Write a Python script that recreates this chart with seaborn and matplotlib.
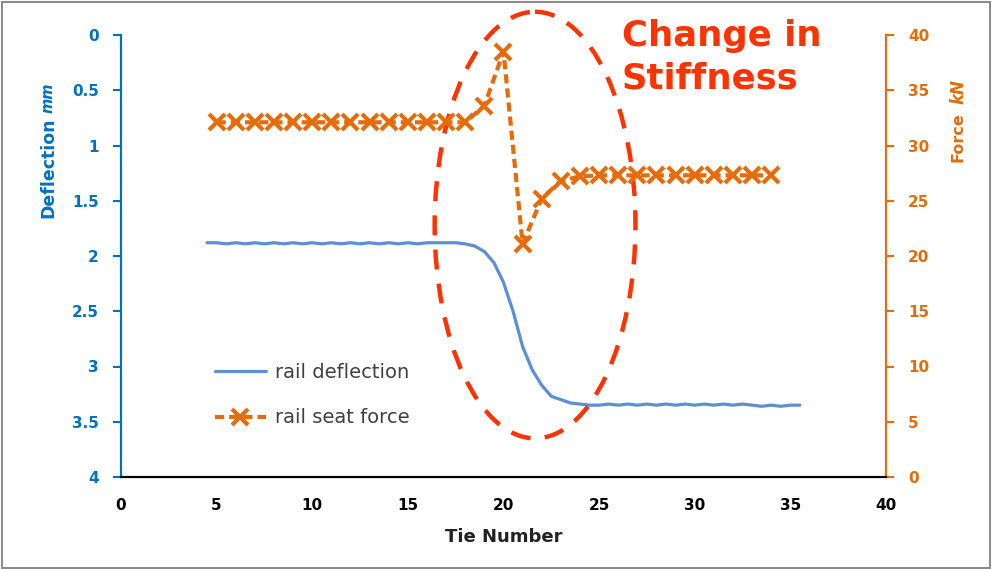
import numpy as np
import pandas as pd
import matplotlib
matplotlib.use("Agg")
import matplotlib.pyplot as plt
from matplotlib.patches import Ellipse, Rectangle
import seaborn as sns

# rail deflection (mm) along the track, sampled every half tie
DEFL_TIE = np.arange(4.5, 36.0, 0.5)
DEFL_MM = [
    1.88, 1.88, 1.89, 1.88, 1.89, 1.88, 1.89, 1.88, 1.89, 1.88,
    1.89, 1.88, 1.89, 1.88, 1.89, 1.88, 1.89, 1.88, 1.89, 1.88,
    1.89, 1.88, 1.89, 1.88, 1.88, 1.88, 1.88, 1.89, 1.91, 1.96,
    2.06, 2.24, 2.50, 2.82, 3.03, 3.17, 3.27, 3.30, 3.33, 3.34,
    3.35, 3.35, 3.34, 3.35, 3.34, 3.35, 3.34, 3.35, 3.34, 3.35,
    3.34, 3.35, 3.34, 3.35, 3.34, 3.35, 3.34, 3.35, 3.36, 3.35,
    3.36, 3.35, 3.35,
]

# rail seat force (kN) at each tie
FORCE_TIE = list(range(5, 35))
FORCE_KN = [
    32.1, 32.1, 32.1, 32.1, 32.1, 32.1, 32.1, 32.1, 32.1, 32.1,
    32.1, 32.1, 32.1, 32.1, 33.6, 38.5, 21.1, 25.2, 26.8, 27.2,
    27.3, 27.3, 27.3, 27.3, 27.3, 27.3, 27.3, 27.3, 27.3, 27.3,
]

BLUE = "#0070C0"
LINE_BLUE = "#5B8FD6"
ORANGE = "#E46C0A"
RED = "#FF3300"

defl = pd.DataFrame({"tie": DEFL_TIE, "defl": DEFL_MM})
force = pd.DataFrame({"tie": FORCE_TIE, "force": FORCE_KN})

sns.set_style("white")
plt.rcParams["font.family"] = ["DejaVu Sans"]

fig = plt.figure(figsize=(9.92, 5.69), dpi=100)
ax = fig.add_axes([121 / 992, 1 - 477 / 569, 765 / 992, 442 / 569])
ax2 = ax.twinx()

sns.lineplot(data=defl, x="tie", y="defl", ax=ax, color=LINE_BLUE, lw=2.3,
             sort=False, estimator=None, label="rail deflection", legend=False)
sns.lineplot(data=force, x="tie", y="force", ax=ax2, color=ORANGE, lw=3,
             linestyle=(0, (2.2, 1.2)), marker="x", markersize=11,
             markeredgewidth=3, markeredgecolor=ORANGE, markerfacecolor=ORANGE,
             sort=False, estimator=None, label="rail seat force", legend=False)

ax.set_xlim(0, 40)
ax.set_ylim(4, 0)
ax2.set_ylim(0, 40)
ax.set_xticks(range(0, 41, 5))
ax.set_yticks(np.arange(0, 4.01, 0.5))
ax.set_yticklabels(["0", "0.5", "1", "1.5", "2", "2.5", "3", "3.5", "4"])
ax2.set_yticks(range(0, 41, 5))

ax.set_xlabel("Tie Number", fontsize=13, fontweight="bold", color="#222222", labelpad=11)
ax.set_ylabel("")
ax2.set_ylabel("")

for a in (ax, ax2):
    a.spines["top"].set_visible(False)
    a.spines["left"].set_color(BLUE)
    a.spines["right"].set_color(ORANGE)
    a.spines["bottom"].set_color("black")
    for s in ("left", "right", "bottom"):
        a.spines[s].set_linewidth(1.5)

ax.tick_params(axis="y", colors=BLUE, labelsize=11, length=6, width=1.5, direction="out", pad=10)
ax.tick_params(axis="x", colors="black", labelsize=11, length=5, width=1.5, direction="out", pad=10)
ax2.tick_params(axis="y", colors=ORANGE, labelsize=11, length=6, width=1.5, direction="out", pad=10)
for lab in ax.get_xticklabels() + ax.get_yticklabels() + ax2.get_yticklabels():
    lab.set_fontweight("bold")

# axis titles with italic units
fig.text(48 / 992, 1 - 168 / 569, "Deflection", rotation=90, ha="center", va="center",
         fontsize=12.5, fontweight="bold", color=BLUE)
fig.text(48 / 992, 1 - 98 / 569, "mm", rotation=90, ha="center", va="center",
         fontsize=10.5, fontweight="bold", fontstyle="italic", color=BLUE)
fig.text(958 / 992, 1 - 137 / 569, "Force", rotation=90, ha="center", va="center",
         fontsize=11.5, fontweight="bold", color=ORANGE)
fig.text(958 / 992, 1 - 92 / 569, "kN", rotation=90, ha="center", va="center",
         fontsize=12, fontweight="bold", fontstyle="italic", color=ORANGE)

# highlight ellipse
ell = Ellipse((21.65, 1.72), width=10.5, height=3.86, fill=False, edgecolor=RED,
              lw=3.2, linestyle=(0, (4.5, 3.2)), clip_on=False, zorder=5)
ax.add_patch(ell)

fig.text(622 / 992, 1 - 57 / 569, "Change in\nStiffness", ha="left", va="center",
         fontsize=25.5, fontweight="bold", color=RED, linespacing=1.3)

h1, l1 = ax.get_legend_handles_labels()
h2, l2 = ax2.get_legend_handles_labels()
leg = ax2.legend(h1 + h2, l1 + l2, loc="center left", bbox_to_anchor=(0.1, 0.185),
                 frameon=False, fontsize=14, handlelength=2.6, labelspacing=1.35,
                 handletextpad=0.5)
for t in leg.get_texts():
    t.set_color("#404040")

fig.patches.append(Rectangle((0.002, 0.002), 0.996, 0.995, transform=fig.transFigure,
                             fill=False, edgecolor="#8c8c8c", lw=1.5))

fig.savefig("out.png", dpi=100)
